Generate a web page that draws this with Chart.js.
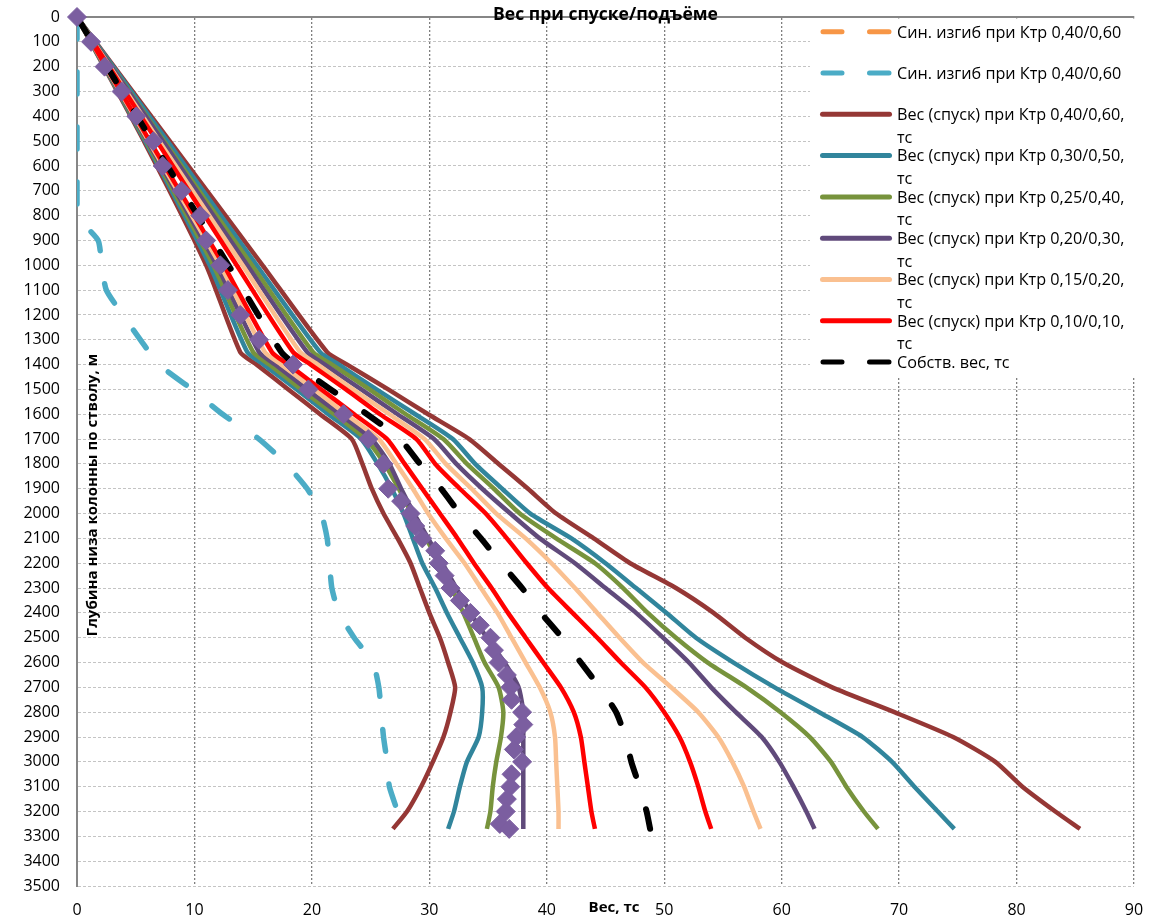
<!DOCTYPE html>
<html>
<head>
<meta charset="utf-8">
<title>Вес при спуске/подъёме</title>
<script src="https://cdn.jsdelivr.net/npm/chart.js@4.4.0/dist/chart.umd.min.js"></script>
<style>
  html, body { margin: 0; padding: 0; background: #fff; }
  #wrap { width: 1161px; height: 917px; }
</style>
</head>
<body>
<div id="wrap"><canvas id="weightChart" width="1161" height="917"></canvas></div>
<script>
// Depth of the string bottom along the hole, m
const depth = [0, 500, 1000, 1350, 1400, 1500, 1600, 1700, 1800, 1900, 2000, 2100, 2200,
    2300, 2400, 2500, 2600, 2700, 2800, 2900, 3000, 3100, 3200, 3270];

// Running in (left branch), t
const downK40 = [0, 5.7, 11.0, 13.9, 15.3, 18.0, 20.7, 23.4, 24.3, 25.1, 26.1, 27.3, 28.4, 29.2, 30.0, 30.9, 31.6, 32.2, 31.8, 31.2, 30.3, 29.3, 28.1, 26.9];
const downK30 = [0, 5.8, 11.3, 14.5, 15.9, 18.7, 21.4, 24.2, 25.6, 26.8, 27.8, 28.6, 29.4, 30.5, 31.5, 32.6, 33.7, 34.5, 34.5, 34.2, 33.2, 32.6, 32.1, 31.6];
const downK25 = [0, 5.9, 11.6, 15.0, 16.4, 19.1, 21.9, 24.6, 26.2, 27.4, 28.5, 29.7, 30.9, 31.9, 32.9, 33.8, 34.7, 35.9, 36.3, 36.1, 35.7, 35.4, 35.2, 34.9];
const downK20 = [0, 6.0, 11.9, 15.5, 16.9, 19.6, 22.4, 25.1, 26.6, 27.6, 28.7, 29.9, 31.1, 32.3, 33.5, 34.9, 36.4, 37.6, 38.0, 38.0, 38.0, 38.0, 38.0, 38.0];
const downK15 = [0, 6.1, 12.2, 16.0, 17.4, 20.2, 22.9, 25.7, 27.2, 28.6, 29.9, 31.4, 33.0, 34.4, 35.8, 37.0, 38.2, 39.4, 40.3, 40.7, 40.8, 40.9, 41.0, 41.0];
const downK10 = [0, 6.2, 12.5, 16.6, 18.0, 20.8, 23.6, 26.4, 27.9, 29.4, 30.9, 32.4, 33.8, 35.3, 36.7, 38.2, 39.7, 41.2, 42.3, 42.9, 43.2, 43.5, 43.8, 44.1];

// Own weight, t
const ownWeight = [0, 6.4, 12.9, 17.4, 18.6, 21.6, 24.7, 27.5, 29.2, 31.0, 32.6, 34.4, 36.1, 37.9, 39.5, 41.3, 42.9, 44.5, 45.9, 46.7, 47.2, 47.9, 48.5, 48.8];

// Pulling out (right branch), t
const upK10 = [0, 6.8, 13.6, 18.4, 19.9, 22.9, 25.8, 28.9, 30.5, 32.6, 34.8, 36.6, 38.3, 40.1, 42.2, 44.3, 46.3, 48.4, 50.0, 51.3, 52.2, 52.9, 53.5, 54.0];
const upK15 = [0, 7.0, 14.1, 19.0, 20.5, 23.5, 26.6, 29.6, 31.4, 33.6, 35.7, 38.2, 40.4, 42.4, 44.3, 46.2, 48.2, 50.6, 52.9, 54.6, 55.8, 56.8, 57.6, 58.2];
const upK20 = [0, 7.3, 14.5, 19.6, 21.1, 24.2, 27.3, 30.4, 32.3, 34.5, 36.9, 39.4, 42.4, 45.0, 47.6, 49.9, 52.1, 54.0, 56.1, 58.3, 59.8, 61.0, 62.1, 62.8];
const upK25 = [0, 7.4, 14.9, 20.1, 21.7, 24.9, 28.0, 31.2, 33.2, 35.5, 37.7, 40.8, 44.1, 46.5, 48.6, 51.0, 53.7, 57.0, 59.9, 62.4, 64.2, 65.5, 67.0, 68.2];
const upK30 = [0, 7.7, 15.3, 20.7, 22.3, 25.5, 28.8, 32.0, 33.9, 36.2, 38.6, 42.1, 45.0, 47.6, 50.2, 52.7, 55.9, 59.4, 63.2, 66.9, 69.4, 71.3, 73.3, 74.7];
const upK40 = [0, 7.9, 15.8, 21.3, 23.0, 26.5, 29.9, 33.4, 35.9, 38.4, 40.8, 44.0, 47.1, 51.0, 54.2, 56.9, 60.1, 64.3, 69.6, 74.6, 78.2, 80.5, 83.3, 85.4];

// Sinusoidal buckling
const sinDepth = [0, 100, 200, 300, 400, 500, 600, 700, 800, 900, 1000, 1100, 1200, 1300, 1400, 1500, 1600,
    1700, 1800, 1900, 2000, 2100, 2200, 2300, 2400, 2500, 2600, 2700, 2800, 2900, 3000, 3100, 3200];
const sinBend = [0, 0, 0, 0, 0, 0, 0, 0, 0, 1.8, 2.1, 2.5, 3.9, 5.4, 7.0, 9.8, 12.4,
    15.5, 17.8, 19.6, 20.8, 21.3, 21.5, 21.7, 22.3, 23.6, 25.2, 25.7, 25.9, 26.1, 26.4, 26.6, 27.3];

// Measured points (diamonds)
const markDepth = [0, 100, 200, 300, 400, 500, 600, 700, 800, 900, 1000, 1100, 1200, 1300, 1400, 1500, 1600, 1700, 1800, 1900,
    1950, 2000, 2050, 2100, 2150, 2200, 2250, 2300, 2350, 2400, 2450, 2500, 2550, 2600, 2650, 2700, 2750,
    2800, 2850, 2900, 2950, 3000, 3050, 3100, 3150, 3200, 3250, 3270];
const markWeight = [0, 1.2, 2.35, 3.8, 5.05, 6.5, 7.3, 8.9, 10.5, 11.0, 12.2, 12.85, 13.9, 15.5, 18.4, 19.7, 22.7, 24.8, 26.1, 26.5,
    27.6, 28.4, 28.8, 29.4, 30.5, 30.8, 31.3, 31.8, 32.6, 33.5, 34.3, 35.2, 35.5, 35.9, 36.6, 36.9, 37.0,
    37.9, 38.0, 37.4, 37.2, 37.9, 37.0, 36.9, 36.6, 36.5, 36.0, 36.8];

const weightTicks = [0, 10, 20, 30, 40, 50, 60, 70, 80, 90];

const FONT = "'Open Sans', 'Noto Sans', sans-serif";
Chart.defaults.font.family = FONT;
Chart.defaults.color = '#000';

function pts(xs, ys) {
    return xs.map((v, i) => ({ x: v, y: ys[i] }));
}

function solid(label, values, color, inLegend) {
    return {
        label: label,
        data: pts(values, depth),
        borderColor: color,
        backgroundColor: color,
        borderWidth: 4.5,
        pointRadius: 0,
        tension: 0.2,
        fill: false,
        inLegend: inLegend
    };
}

const datasets = [
    {
        label: 'Син. изгиб при Ктр 0,40/0,60',
        data: [],
        borderColor: '#F79646',
        borderWidth: 5.5,
        borderDash: [20, 26],
        borderCapStyle: 'round',
        pointRadius: 0,
        inLegend: true
    },
    {
        label: 'Син. изгиб при Ктр 0,40/0,60',
        data: pts(sinBend, sinDepth),
        borderColor: '#4BACC6',
        borderWidth: 5.5,
        borderDash: [22, 33],
        borderCapStyle: 'round',
        pointRadius: 0,
        tension: 0.2,
        inLegend: true
    },
    solid('Вес (спуск) при Ктр 0,40/0,60, тс', downK40, '#953735', true),
    solid('Вес (подъём) при Ктр 0,40/0,60, тс', upK40, '#953735', false),
    solid('Вес (спуск) при Ктр 0,30/0,50, тс', downK30, '#31859C', true),
    solid('Вес (подъём) при Ктр 0,30/0,50, тс', upK30, '#31859C', false),
    solid('Вес (спуск) при Ктр 0,25/0,40, тс', downK25, '#77933C', true),
    solid('Вес (подъём) при Ктр 0,25/0,40, тс', upK25, '#77933C', false),
    solid('Вес (спуск) при Ктр 0,20/0,30, тс', downK20, '#604A7B', true),
    solid('Вес (подъём) при Ктр 0,20/0,30, тс', upK20, '#604A7B', false),
    solid('Вес (спуск) при Ктр 0,15/0,20, тс', downK15, '#FAC090', true),
    solid('Вес (подъём) при Ктр 0,15/0,20, тс', upK15, '#FAC090', false),
    solid('Вес (спуск) при Ктр 0,10/0,10, тс', downK10, '#FF0000', true),
    solid('Вес (подъём) при Ктр 0,10/0,10, тс', upK10, '#FF0000', false),
    {
        label: 'Собств. вес, тс',
        data: pts(ownWeight, depth),
        borderColor: '#000000',
        borderWidth: 6,
        borderDash: [20, 35],
        borderCapStyle: 'round',
        pointRadius: 0,
        tension: 0.2,
        inLegend: true
    },
    {
        label: 'Замер',
        data: pts(markWeight, markDepth),
        showLine: false,
        clip: false,
        pointStyle: 'rectRot',
        pointRadius: 9.5,
        pointBackgroundColor: '#7B5EA0',
        pointBorderColor: '#7B5EA0',
        pointBorderWidth: 1,
        inLegend: false
    }
];

// later series are painted on top, as in the source workbook
datasets.forEach((ds, i) => {
    ds.order = -i;
    ds.xAxisID = 'x';
    ds.yAxisID = 'y';
});

// title, axis names and the side legend
const decorPlugin = {
    id: 'decor',
    afterDraw(chart) {
        const ctx = chart.ctx;
        const area = chart.chartArea;
        ctx.save();

        // legend box
        const lx = 810, ly = area.top + 1.5;
        ctx.fillStyle = '#ffffff';
        ctx.fillRect(lx, ly, area.right + 4 - lx, 358);

        ctx.font = '16.2px ' + FONT;
        ctx.textAlign = 'left';
        ctx.textBaseline = 'alphabetic';
        let k = 0;
        chart.data.datasets.forEach(ds => {
            if (!ds.inLegend) return;
            const y = 31.7 + 41.3 * k;
            ctx.strokeStyle = ds.borderColor;
            ctx.lineWidth = 5;
            ctx.lineCap = 'round';
            ctx.beginPath();
            if (ds.borderDash) {
                ctx.moveTo(823, y); ctx.lineTo(842, y);
                ctx.moveTo(869.5, y); ctx.lineTo(889, y);
            } else {
                ctx.moveTo(822.5, y); ctx.lineTo(889.5, y);
            }
            ctx.stroke();

            // wrap the label into the box width
            const words = ds.label.split(' ');
            const lines = [];
            let cur = '';
            words.forEach(w => {
                const test = cur ? cur + ' ' + w : w;
                if (ctx.measureText(test).width > 240 && cur) {
                    lines.push(cur);
                    cur = w;
                } else {
                    cur = test;
                }
            });
            lines.push(cur);
            ctx.fillStyle = '#000';
            lines.forEach((t, j) => ctx.fillText(t, 897, y + 5.8 + j * 22.7));
            k++;
        });

        // chart title
        ctx.font = 'bold 17.5px ' + FONT;
        ctx.textAlign = 'center';
        ctx.fillText('Вес при спуске/подъёме', (area.left + area.right) / 2, 20);

        // x axis name
        ctx.font = 'bold 15px ' + FONT;
        ctx.textBaseline = 'middle';
        ctx.fillText('Вес, тс', 614, 908);

        // y axis name
        ctx.translate(93, 495);
        ctx.rotate(-Math.PI / 2);
        ctx.fillText('Глубина низа колонны по стволу, м', 0, 0);
        ctx.restore();
    }
};

const ctx = document.getElementById('weightChart').getContext('2d');
const weightChart = new Chart(ctx, {
    type: 'line',
    data: { datasets: datasets },
    options: {
        responsive: false,
        animation: false,
        events: [],
        layout: { padding: { left: 0, right: 27, top: 0, bottom: 0 } },
        plugins: {
            legend: { display: false },
            title: { display: false },
            tooltip: { enabled: false }
        },
        scales: {
            x: {
                type: 'linear',
                position: 'top',
                min: 0,
                max: 90,
                ticks: { display: false, stepSize: 10 },
                grid: { color: '#7f7f7f', lineWidth: 1.3, drawTicks: false },
                border: { color: '#868686', width: 2, dash: [2, 2] },
                afterFit(scale) { scale.height = 17; }
            },
            xb: {
                type: 'linear',
                position: 'bottom',
                min: 0,
                max: 90,
                afterBuildTicks(scale) { scale.ticks = weightTicks.map(v => ({ value: v })); },
                ticks: { padding: 15, font: { size: 16 } },
                grid: { display: false, drawTicks: false },
                border: { display: false },
                afterFit(scale) { scale.height = 31; }
            },
            y: {
                type: 'linear',
                reverse: true,
                min: 0,
                max: 3500,
                ticks: {
                    stepSize: 100,
                    padding: 0,
                    autoSkip: false,
                    font: { size: 16 },
                    callback: v => String(v)
                },
                grid: {
                    color: '#c4c4c4',
                    lineWidth: 1,
                    drawTicks: true,
                    tickLength: 17,
                    tickColor: 'rgba(0,0,0,0)'
                },
                border: { color: '#868686', width: 2, dash: [3, 2] },
                afterFit(scale) { scale.width = 77; }
            }
        }
    },
    plugins: [decorPlugin]
});
</script>
</body>
</html>
